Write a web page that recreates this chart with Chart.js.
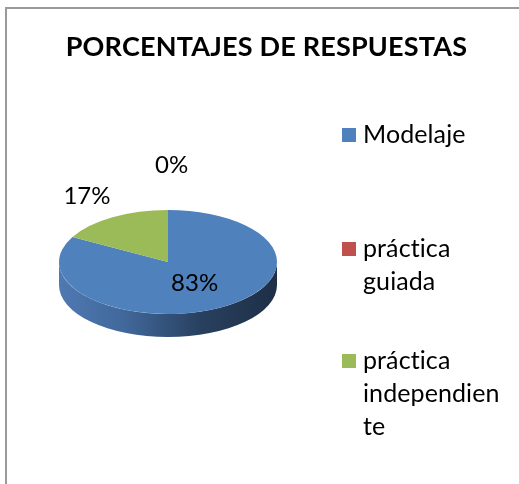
<!DOCTYPE html>
<html><head><meta charset="utf-8">
<script src="https://cdn.jsdelivr.net/npm/chart.js@4/dist/chart.umd.min.js"></script>
<style>html,body{margin:0;padding:0;background:#fff}#wrap{position:relative;width:519px;height:484px}</style>
</head><body><div id="wrap"><canvas id="c" width="519" height="484"></canvas></div>
<script>
const titleText = "PORCENTAJES DE RESPUESTAS";
const categories = ["Modelaje", "práctica guiada", "práctica independiente"];
const values = [83, 0, 17];
const percentLabels = ["83%", "0%", "17%"];
const legendLines = [["Modelaje"], ["práctica", "guiada"], ["práctica", "independien", "te"]];
const colors = ["#4f81bd", "#c0504d", "#9bbb59"];

const FONT = "Lato, 'Open Sans', sans-serif";
// break the "ti" ligature of the font without changing the visible text
const noLig = s => s.replace(/ti/g, 't\u200Ci').replace(/fi/g, 'f\u200Ci');

const pie3d = {
  id: 'pie3d',
  beforeDatasetsDraw(chart) {
    const ctx = chart.ctx;
    const meta = chart.getDatasetMeta(0);
    const first = meta.data[0];
    const R = first.outerRadius, ax = first.x, ay = first.y;
    const CX = 168, CY = 262, RX = 109, RY = 52, DEPTH = 23;
    // side (front, lower half)
    meta.data.forEach((arc, i) => {
      let s = arc.startAngle, e = arc.endAngle;
      if (e - s <= 0) return;
      const TWO = Math.PI * 2;
      const ranges = [];
      for (let k = -1; k <= 1; k++) {
        const a1 = Math.max(s + k * TWO, 0), a2 = Math.min(e + k * TWO, Math.PI);
        if (a2 > a1) ranges.push([a1, a2]);
      }
      const g = ctx.createLinearGradient(CX - RX, 0, CX + RX, 0);
      g.addColorStop(0, '#4e79b1');
      g.addColorStop(0.3, '#41689b');
      g.addColorStop(0.65, '#28405f');
      g.addColorStop(1, '#1e2f46');
      ranges.forEach(([a1, a2]) => {
        ctx.save();
        ctx.beginPath();
        ctx.ellipse(CX, CY, RX, RY, 0, a1, a2, false);
        ctx.ellipse(CX, CY + DEPTH, RX, RY, 0, a2, a1, true);
        ctx.closePath();
        ctx.fillStyle = g;
        ctx.fill();
        ctx.restore();
      });
    });
    // top face
    ctx.save();
    ctx.translate(CX, CY);
    ctx.scale(RX / R, RY / R);
    ctx.translate(-ax, -ay);
    meta.data.forEach(arc => arc.draw(ctx));
    ctx.restore();
    // percentage labels
    const place = [{da: 0, f: 0.48}, {abs: -89 * Math.PI / 180, f: 1.87}, {da: 0, f: 1.46}];
    ctx.save();
    ctx.font = "24px " + FONT;
    ctx.fillStyle = '#000';
    ctx.textAlign = 'center';
    ctx.textBaseline = 'middle';
    meta.data.forEach((arc, i) => {
      const p = place[i];
      const mid = (arc.startAngle + arc.endAngle) / 2;
      const a = p.abs !== undefined ? p.abs : mid + p.da;
      const x = CX + p.f * RX * Math.cos(a);
      const y = CY + p.f * RY * Math.sin(a);
      ctx.fillText(percentLabels[i], x, y);
    });
    ctx.restore();
    return false;
  },
  afterDraw(chart) {
    const ctx = chart.ctx;
    ctx.save();
    // frame
    ctx.strokeStyle = '#9a9a9a';
    ctx.lineWidth = 2;
    ctx.strokeRect(6, 8, 700, 700);
    // title
    ctx.fillStyle = '#000';
    ctx.font = "bold 27px " + FONT;
    ctx.letterSpacing = '0.2px';
    ctx.textAlign = 'center';
    ctx.textBaseline = 'alphabetic';
    ctx.fillText(titleText, 266.5, 56);
    // legend
    const tops = [128, 242, 354];
    ctx.font = "25px " + FONT;
    ctx.letterSpacing = '0.1px';
    ctx.textAlign = 'left';
    categories.forEach((c, i) => {
      ctx.fillStyle = colors[i];
      ctx.fillRect(342, tops[i], 14, 14);
      ctx.fillStyle = '#000';
      legendLines[i].forEach((ln, j) => {
        ctx.fillText(noLig(ln), 363, tops[i] + 15 + j * 32.8);
      });
    });
    ctx.restore();
  }
};

new Chart(document.getElementById('c'), {
  type: 'pie',
  data: {
    labels: categories,
    datasets: [{ data: values, backgroundColor: colors, borderWidth: 0 }]
  },
  options: {
    responsive: false,
    animation: false,
    plugins: { legend: { display: false }, title: { display: false }, tooltip: { enabled: false } }
  },
  plugins: [pie3d]
});
</script>
</body></html>
